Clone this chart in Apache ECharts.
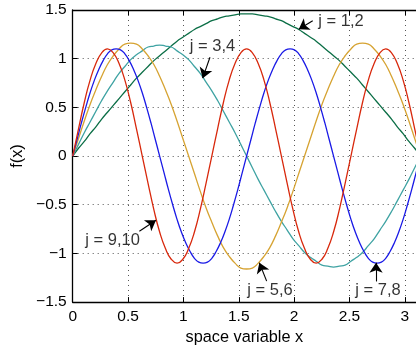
<!DOCTYPE html>
<html>
<head>
<meta charset="utf-8">
<script src="https://cdn.jsdelivr.net/npm/echarts@6/dist/echarts.min.js"></script>
<style>html,body{margin:0;padding:0;background:#fff}#c{width:416px;height:351px}</style>
</head>
<body>
<div id="c"></div>
<script>
// x samples (0 .. pi)
const xs = [0,0.0524,0.1047,0.1571,0.2094,0.2618,0.3142,0.3665,0.4189,0.4712,0.5236,0.5760,0.6283,0.6807,0.7330,0.7854,0.8378,0.8901,0.9425,0.9948,1.0472,1.0996,1.1519,1.2043,1.2566,1.3090,1.3614,1.4137,1.4661,1.5184,1.5708,1.6232,1.6755,1.7279,1.7802,1.8326,1.8850,1.9373,1.9897,2.0420,2.0944,2.1468,2.1991,2.2515,2.3038,2.3562,2.4086,2.4609,2.5133,2.5656,2.6180,2.6704,2.7227,2.7751,2.8274,2.8798,2.9322,2.9845,3.0369,3.0892,3.1416];
// finer x samples used for j = 7,8
const xsB = [0,0.0393,0.0785,0.1178,0.1571,0.1963,0.2356,0.2749,0.3142,0.3534,0.3927,0.4320,0.4712,0.5105,0.5498,0.5890,0.6283,0.6676,0.7069,0.7461,0.7854,0.8247,0.8639,0.9032,0.9425,0.9817,1.0210,1.0603,1.0996,1.1388,1.1781,1.2174,1.2566,1.2959,1.3352,1.3744,1.4137,1.4530,1.4923,1.5315,1.5708,1.6101,1.6493,1.6886,1.7279,1.7671,1.8064,1.8457,1.8850,1.9242,1.9635,2.0028,2.0420,2.0813,2.1206,2.1598,2.1991,2.2384,2.2777,2.3169,2.3562,2.3955,2.4347,2.4740,2.5133,2.5525,2.5918,2.6311,2.6704,2.7096,2.7489,2.7882,2.8274,2.8667,2.9060,2.9452,2.9845,3.0238,3.0631,3.1023,3.1416];
const j12 = [0,0.08,0.15,0.23,0.30,0.38,0.45,0.52,0.59,0.66,0.73,0.80,0.86,0.92,0.98,1.03,1.08,1.13,1.18,1.22,1.26,1.30,1.33,1.36,1.39,1.41,1.43,1.44,1.45,1.46,1.46,1.46,1.45,1.44,1.43,1.41,1.39,1.36,1.33,1.30,1.26,1.22,1.18,1.13,1.08,1.03,0.98,0.92,0.86,0.80,0.73,0.66,0.59,0.52,0.45,0.38,0.30,0.23,0.15,0.08,0];
const j34 = [0,0.12,0.24,0.35,0.46,0.57,0.67,0.76,0.85,0.92,0.99,1.04,1.08,1.12,1.13,1.14,1.13,1.12,1.08,1.04,0.99,0.92,0.85,0.76,0.67,0.57,0.46,0.35,0.24,0.12,0,-0.12,-0.24,-0.35,-0.46,-0.57,-0.67,-0.76,-0.85,-0.92,-0.99,-1.04,-1.08,-1.12,-1.13,-1.14,-1.13,-1.12,-1.08,-1.04,-0.99,-0.92,-0.85,-0.76,-0.67,-0.57,-0.46,-0.35,-0.24,-0.12,0];
const j56 = [0,0.18,0.36,0.53,0.68,0.82,0.94,1.03,1.10,1.15,1.16,1.15,1.10,1.03,0.94,0.82,0.68,0.53,0.36,0.18,0,-0.18,-0.36,-0.53,-0.68,-0.82,-0.94,-1.03,-1.10,-1.15,-1.16,-1.15,-1.10,-1.03,-0.94,-0.82,-0.68,-0.53,-0.36,-0.18,0,0.18,0.36,0.53,0.68,0.82,0.94,1.03,1.10,1.15,1.16,1.15,1.10,1.03,0.94,0.82,0.68,0.53,0.36,0.18,0];
const j78 = [0,0.17,0.34,0.50,0.65,0.78,0.89,0.98,1.05,1.09,1.10,1.09,1.05,0.98,0.89,0.78,0.65,0.50,0.34,0.17,0,
  -0.17,-0.34,-0.50,-0.65,-0.78,-0.89,-0.98,-1.05,-1.09,-1.10,-1.09,-1.05,-0.98,-0.89,-0.78,-0.65,-0.50,-0.34,-0.17,0,
  0.17,0.34,0.50,0.65,0.78,0.89,0.98,1.05,1.09,1.10,1.09,1.05,0.98,0.89,0.78,0.65,0.50,0.34,0.17,0,
  -0.17,-0.34,-0.50,-0.65,-0.78,-0.89,-0.98,-1.05,-1.09,-1.10,-1.09,-1.05,-0.98,-0.89,-0.78,-0.65,-0.50,-0.34,-0.17,0];
const j910 = [0,0.28,0.55,0.78,0.95,1.06,1.10,1.06,0.95,0.78,0.55,0.28,0,-0.28,-0.55,-0.78,-0.95,-1.06,-1.10,-1.06,-0.95,-0.78,-0.55,-0.28,0,0.28,0.55,0.78,0.95,1.06,1.10,1.06,0.95,0.78,0.55,0.28,0,-0.28,-0.55,-0.78,-0.95,-1.06,-1.10,-1.06,-0.95,-0.78,-0.55,-0.28,0,0.28,0.55,0.78,0.95,1.06,1.10,1.06,0.95,0.78,0.55,0.28,0];

// annotations: label text, label position, arrow tail, arrow head (data coords)
const annLabels = ['j = 1,2','j = 3,4','j = 5,6','j = 7,8','j = 9,10'];
const annTextPos = [[2.424,1.387],[1.263,1.121],[1.782,-1.380],[2.758,-1.380],[0.360,-0.868]];
const annTail = [[2.168,1.390],[1.240,1.015],[1.752,-1.285],[2.740,-1.288],[0.602,-0.772]];
const annHead = [[2.042,1.302],[1.174,0.800],[1.686,-1.096],[2.740,-1.096],[0.752,-0.660]];

// visible x range is cut at the right edge of the picture (domain runs to pi)
const xTicks = {min:0, max:3.101, interval:0.5};
const yTicks = {min:-1.5, max:1.5, interval:0.5};

const FONT = 'Liberation Sans, Arial, sans-serif';
const pair = (xv, ys) => xv.map((x,i)=>[x, ys[i]]);
const lineSeries = (name, xv, ys, color) => ({
  name, type:'line', data: pair(xv, ys), smooth:true, showSymbol:false, symbol:'none',
  lineStyle:{color, width:1.3}, silent:true, z:2
});

const chart = echarts.init(document.getElementById('c'), null, {renderer:'canvas'});
const grid = {left:72.7, right:0, top:10, bottom:48.3, containLabel:false};
const dotted = {show:true, lineStyle:{color:'#555', width:1, type:[1,4]}};
chart.setOption({
  animation:false,
  grid,
  xAxis:[{
    type:'value', min:xTicks.min, max:xTicks.max, interval:xTicks.interval,
    name:'space variable x', nameLocation:'middle', nameGap:27,
    nameTextStyle:{fontSize:16.3, color:'#000', fontFamily:FONT},
    axisLine:{onZero:false, lineStyle:{color:'#000', width:1.3}},
    axisTick:{inside:true, length:5, lineStyle:{color:'#000'}},
    axisLabel:{color:'#000', fontSize:15.5, fontFamily:FONT, margin:7, showMaxLabel:false},
    splitLine:dotted
  },{
    type:'value', position:'top', min:xTicks.min, max:xTicks.max, interval:xTicks.interval,
    axisLine:{onZero:false, lineStyle:{color:'#000', width:1.3}},
    axisTick:{inside:true, length:5, lineStyle:{color:'#000'}},
    axisLabel:{show:false}, splitLine:{show:false}
  }],
  yAxis:{
    type:'value', min:yTicks.min, max:yTicks.max, interval:yTicks.interval,
    name:'f(x)', nameLocation:'middle', nameGap:47, nameRotate:90,
    nameTextStyle:{fontSize:16.3, color:'#000', fontFamily:FONT},
    axisLine:{show:true, onZero:false, lineStyle:{color:'#000', width:1.3}},
    axisTick:{show:true, inside:true, length:5, lineStyle:{color:'#000'}},
    axisLabel:{color:'#000', fontSize:15.5, fontFamily:FONT, margin:6,
      formatter:(v)=> String(v).replace('-', '\u2212')},
    splitLine:dotted
  },
  series:[
    Object.assign(lineSeries('j=1,2', xs, j12, '#0b6e46'), {
      markLine:{
        silent:true, animation:false, symbol:['none','arrow'], symbolSize:10,
        label:{show:false},
        lineStyle:{color:'#000', width:1.1, type:'solid'},
        data: annTail.map((t,i)=>[{coord:t},{coord:annHead[i]}])
      }
    }),
    lineSeries('j=3,4', xs, j34, '#3fa3a3'),
    lineSeries('j=5,6', xs, j56, '#d6a332'),
    lineSeries('j=7,8', xsB, j78, '#1a1ae6'),
    lineSeries('j=9,10', xs, j910, '#d8280c'),
    {
      type:'scatter', silent:true, symbolSize:0, z:5,
      data: annLabels.map((s,i)=>({name:s, value:annTextPos[i]})),
      label:{show:true, position:'inside', formatter:'{b}', color:'#000', fontSize:16.5, fontFamily:FONT}
    }
  ]
});
</script>
</body>
</html>
